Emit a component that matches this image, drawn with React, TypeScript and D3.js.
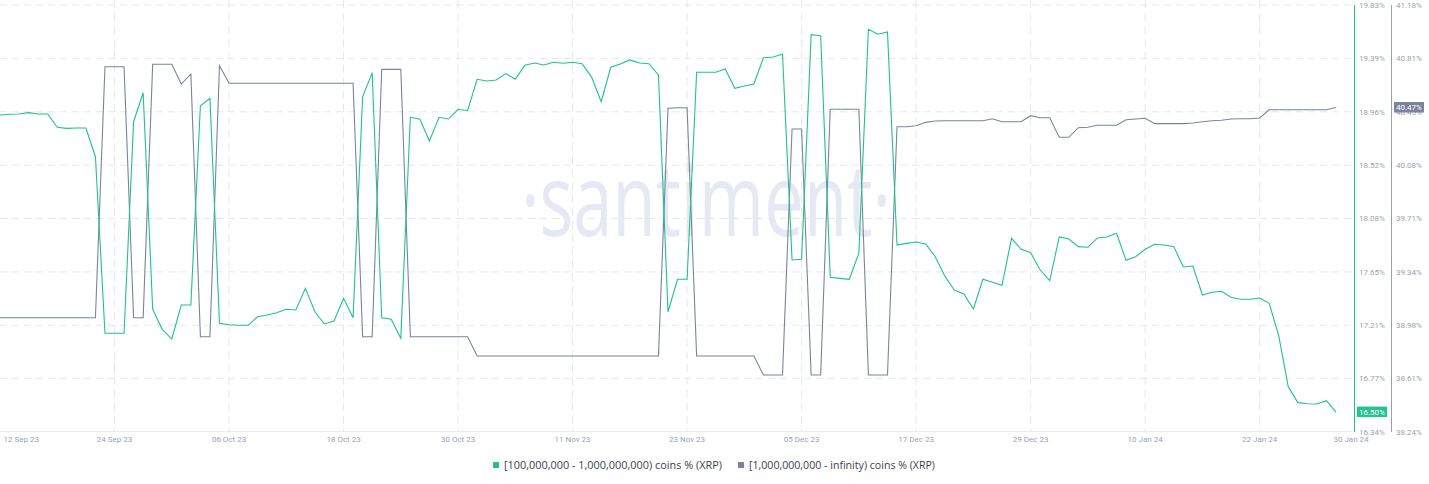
import React from "react";
import * as d3 from "d3";

// ---- data (daily, 12 Sep 2023 .. 30 Jan 2024) ----
const startDate = "2023-09-12";

const greenValues: number[] = [
  18.931, 18.937, 18.939, 18.95, 18.939, 18.939, 18.83, 18.822, 18.825, 18.825,
  18.59, 17.147, 17.147, 17.147, 18.876, 19.113, 17.343, 17.179, 17.1, 17.378,
  17.378, 19.007, 19.067, 17.228, 17.217, 17.212, 17.212, 17.282, 17.296, 17.315,
  17.343, 17.337, 17.514, 17.323, 17.223, 17.247, 17.433, 17.274, 19.08, 19.277,
  17.274, 17.261, 17.106, 18.912, 18.896, 18.718, 18.912, 18.898, 18.978, 18.966,
  19.223, 19.209, 19.217, 19.269, 19.223, 19.337, 19.356, 19.34, 19.362, 19.354,
  19.362, 19.35, 19.239, 19.04, 19.321, 19.348, 19.381, 19.356, 19.35, 19.258,
  17.323, 17.588, 17.588, 19.28, 19.28, 19.28, 19.307, 19.149, 19.168, 19.184,
  19.399, 19.405, 19.427, 17.746, 17.752, 19.587, 19.579, 17.604, 17.596, 17.588,
  17.801, 19.631, 19.591, 19.609, 17.868, 17.882, 17.893, 17.877, 17.773, 17.615,
  17.501, 17.468, 17.345, 17.588, 17.564, 17.539, 17.923, 17.833, 17.806, 17.664,
  17.577, 17.934, 17.917, 17.855, 17.85, 17.926, 17.934, 17.964, 17.743, 17.773,
  17.833, 17.874, 17.868, 17.855, 17.689, 17.697, 17.46, 17.482, 17.49, 17.441,
  17.425, 17.425, 17.435, 17.392, 17.125, 16.71, 16.58, 16.571, 16.569, 16.596,
  16.503,
];

const grayValues: number[] = [
  39.027, 39.027, 39.027, 39.027, 39.027, 39.027, 39.027, 39.027, 39.027, 39.027,
  39.027, 40.755, 40.755, 40.755, 39.027, 39.027, 40.772, 40.772, 40.772, 40.636,
  40.705, 38.896, 38.896, 40.762, 40.641, 40.641, 40.641, 40.641, 40.641, 40.641,
  40.641, 40.641, 40.641, 40.641, 40.641, 40.641, 40.641, 40.641, 38.896, 38.896,
  40.737, 40.737, 40.737, 38.896, 38.896, 38.896, 38.896, 38.896, 38.896, 38.896,
  38.763, 38.763, 38.763, 38.763, 38.763, 38.763, 38.763, 38.763, 38.763, 38.763,
  38.763, 38.763, 38.763, 38.763, 38.763, 38.763, 38.763, 38.763, 38.763, 38.763,
  40.469, 40.473, 40.473, 38.763, 38.763, 38.763, 38.763, 38.763, 38.763, 38.763,
  38.632, 38.632, 38.632, 40.326, 40.326, 38.632, 38.632, 40.462, 40.462, 40.462,
  40.462, 38.632, 38.632, 38.632, 40.342, 40.342, 40.349, 40.372, 40.381, 40.383,
  40.383, 40.383, 40.383, 40.383, 40.397, 40.376, 40.376, 40.376, 40.418, 40.404,
  40.404, 40.269, 40.269, 40.335, 40.338, 40.352, 40.352, 40.352, 40.39, 40.395,
  40.4, 40.363, 40.363, 40.363, 40.363, 40.368, 40.376, 40.383, 40.386, 40.395,
  40.397, 40.397, 40.402, 40.459, 40.459, 40.459, 40.459, 40.459, 40.459, 40.459,
  40.474,
];

const xTickDates = [
  "2023-09-12", "2023-09-24", "2023-10-06", "2023-10-18", "2023-10-30",
  "2023-11-11", "2023-11-23", "2023-12-05", "2023-12-17", "2023-12-29",
  "2024-01-10", "2024-01-22", "2024-01-30",
];

const greenTicks = ["16.34", "16.77", "17.21", "17.65", "18.08", "18.52", "18.96", "19.39", "19.83"];
const grayTicks = ["38.24", "38.61", "38.98", "39.34", "39.71", "40.08", "40.45", "40.81", "41.18"];

const seriesNames = [
  "[100,000,000 - 1,000,000,000) coins % (XRP)",
  "[1,000,000,000 - infinity) coins % (XRP)",
];

const GREEN = "#1fc28f";
const GRAY = "#7a849a";
const GRID = "#e6e8f1";
const LABEL = "#9aa2b6";
const FONT = "Roboto, 'Noto Sans', sans-serif";

export default function App() {
  const parse = d3.utcParse("%Y-%m-%d");
  const t0 = parse(startDate)!;
  const dates = greenValues.map((_, i) => d3.utcDay.offset(t0, i));
  const tEnd = dates[dates.length - 1];

  const plotTop = 5;
  const plotBottom = 432;
  const plotRight = 1352;
  const greenAxisX = 1354.5;
  const grayAxisX = 1391.5;

  const x = d3.scaleUtc().domain([t0, tEnd]).range([0, 1336]);
  const yG = d3.scaleLinear().domain([16.34, 19.83]).range([plotBottom, plotTop]);
  const yR = d3.scaleLinear().domain([38.24, 41.18]).range([plotBottom, plotTop]);
  const tickIdx = d3.range(greenTicks.length);
  const yTick = d3.scaleLinear().domain([0, greenTicks.length - 1]).range([plotBottom, plotTop]);

  const lineG = d3
    .line<number>()
    .x((_, i) => x(dates[i]))
    .y((v) => yG(v));
  const lineR = d3
    .line<number>()
    .x((_, i) => x(dates[i]))
    .y((v) => yR(v));

  const fmt = d3.utcFormat("%d %b %y");
  const ticks = xTickDates.map((s) => parse(s)!);

  const lastG = greenValues[greenValues.length - 1];
  const lastR = grayValues[grayValues.length - 1];

  return (
    <svg
      width={1429}
      height={484}
      style={{ position: "absolute", left: 0, top: 0, background: "#fff" }}
      fontFamily={FONT}
    >
      {/* horizontal grid */}
      {tickIdx.slice(1).map((i) => (
        <line
          key={"h" + i}
          x1={0}
          x2={plotRight}
          y1={yTick(i)}
          y2={yTick(i)}
          stroke={GRID}
          strokeDasharray="7 5"
        />
      ))}
      {/* vertical grid */}
      {ticks.slice(1, ticks.length - 1).map((d, i) => (
        <line
          key={"v" + i}
          x1={x(d)}
          x2={x(d)}
          y1={0}
          y2={plotBottom}
          stroke={GRID}
          strokeDasharray="8 5"
        />
      ))}
      {/* bottom axis line */}
      <line x1={0} x2={plotRight} y1={plotBottom - 0.5} y2={plotBottom - 0.5} stroke="#e9ebf2" />

      {/* watermark */}
      <text
        x={706}
        y={236}
        textAnchor="middle"
        fontSize={100}
        fontFamily="'Open Sans', 'Noto Sans', sans-serif"
        fill="#e6e9f3"
        textLength={370}
        lengthAdjust="spacingAndGlyphs"
      >
        ·santiment·
      </text>

      {/* series */}
      <path d={lineR(grayValues) || ""} fill="none" stroke={GRAY} strokeWidth={1.1} />
      <path d={lineG(greenValues) || ""} fill="none" stroke={GREEN} strokeWidth={1.1} />

      {/* x tick labels */}
      {ticks.map((d, i) => {
        const first = i === 0;
        const last = i === ticks.length - 1;
        return (
          <text
            key={"xt" + i}
            x={first ? x(d) + 3.5 : last ? x(d) + 15 : x(d)}
            y={442}
            textAnchor={first ? "start" : "middle"}
            fontSize={8}
            fill={LABEL}
          >
            {fmt(d)}
          </text>
        );
      })}

      {/* right axes */}
      <line x1={greenAxisX} x2={greenAxisX} y1={plotTop} y2={plotBottom} stroke={GREEN} strokeWidth={1} />
      <line x1={grayAxisX} x2={grayAxisX} y1={plotTop} y2={plotBottom} stroke="#9ba0ae" strokeWidth={1} />
      {tickIdx.map((i) => (
        <text key={"gt" + i} x={1359} y={yTick(i)} dy="0.35em" fontSize={8} fill={LABEL}>
          {greenTicks[i]}%
        </text>
      ))}
      {tickIdx.map((i) => (
        <text key={"rt" + i} x={1396} y={yTick(i)} dy="0.35em" fontSize={8} fill={LABEL}>
          {grayTicks[i]}%
        </text>
      ))}

      {/* last value badges */}
      <g transform={`translate(1357,${yG(lastG) - 5.5})`}>
        <rect width={30} height={10.5} fill="#26c28f" />
        <text x={15} y={5.25} dy="0.35em" textAnchor="middle" fontSize={8} fill="#fff">
          {lastG.toFixed(2)}%
        </text>
      </g>
      <g transform={`translate(1394,${yR(lastR) - 5.5})`}>
        <rect width={30} height={10.5} fill="#7a849a" />
        <text x={15} y={5.25} dy="0.35em" textAnchor="middle" fontSize={8} fill="#fff">
          {lastR.toFixed(2)}%
        </text>
      </g>

      {/* legend */}
      <rect x={493} y={462} width={6} height={6} fill={GREEN} />
      <text
        x={504}
        y={469}
        fontSize={10.5}
        fontFamily="'Open Sans', 'Noto Sans', sans-serif"
        fill="#3c4150"
        textLength={218}
        lengthAdjust="spacingAndGlyphs"
      >
        {seriesNames[0]}
      </text>
      <rect x={738} y={462} width={6} height={6} fill={GRAY} />
      <text
        x={749}
        y={469}
        fontSize={10.5}
        fontFamily="'Open Sans', 'Noto Sans', sans-serif"
        fill="#3c4150"
        textLength={186}
        lengthAdjust="spacingAndGlyphs"
      >
        {seriesNames[1]}
      </text>
    </svg>
  );
}
